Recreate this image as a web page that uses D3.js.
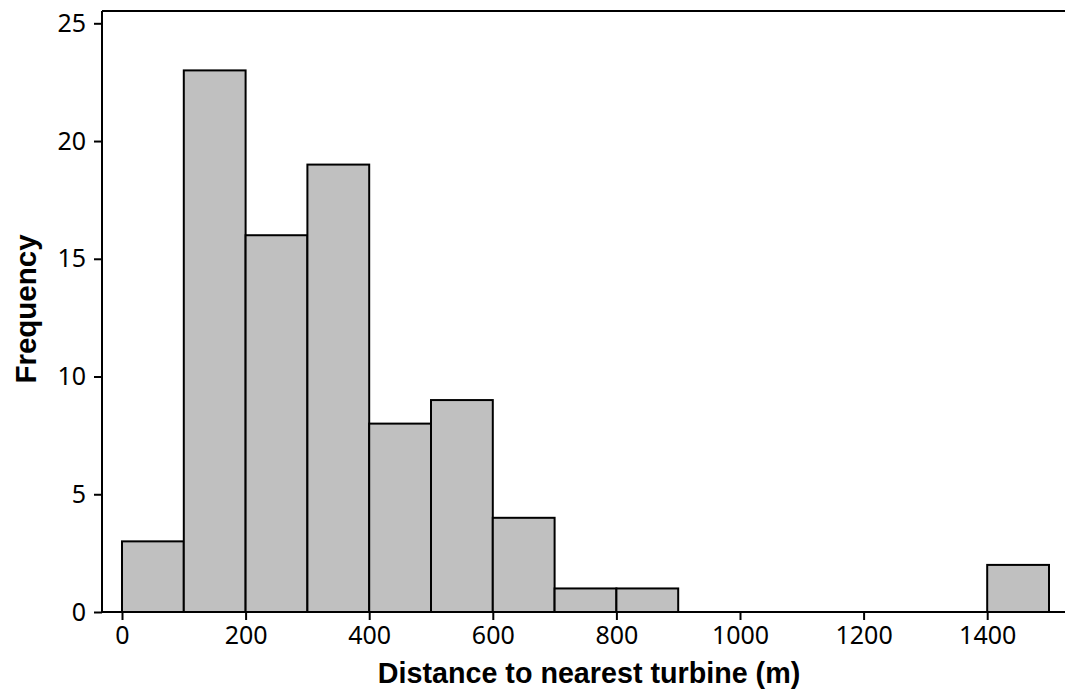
<!DOCTYPE html>
<html>
<head>
<meta charset="utf-8">
<script src="https://cdn.jsdelivr.net/npm/d3@7"></script>
<style>
  body { margin: 0; background: #fff; }
  .tick text { font-family: "Noto Sans", Tahoma, sans-serif; font-size: 25px; fill: #000; }
  .axtitle { font-family: "Liberation Sans", Arial, sans-serif; font-weight: bold; fill: #000; }
</style>
</head>
<body>
<div id="chart"></div>
<script>
// histogram bins (lower edge) and counts
const binStarts = [0, 100, 200, 300, 400, 500, 600, 700, 800, 900, 1000, 1100, 1200, 1300, 1400];
const binWidth = 100;
const counts = [3, 23, 16, 19, 8, 9, 4, 1, 1, 0, 0, 0, 0, 0, 2];
const xTicks = [0, 200, 400, 600, 800, 1000, 1200, 1400];
const yTicks = [0, 5, 10, 15, 20, 25];

const W = 1065, H = 696;
const margin = {top: 11, right: 0, bottom: 84, left: 102};

const svg = d3.select("#chart").append("svg")
    .attr("width", W)
    .attr("height", H);

const xScale = d3.scaleLinear()
    .domain([0, 1500])
    .range([122, 1049]);

const yScale = d3.scaleLinear()
    .domain([0, 25])
    .range([612, 23.3]);

const bars = binStarts.map((s, i) => ({x0: s, x1: s + binWidth, n: counts[i]}));

svg.selectAll("rect.bar")
    .data(bars)
    .enter().append("rect")
    .attr("class", "bar")
    .attr("x", d => xScale(d.x0))
    .attr("y", d => yScale(d.n))
    .attr("width", d => xScale(d.x1) - xScale(d.x0))
    .attr("height", d => yScale(0) - yScale(d.n))
    .attr("fill", "#c0c0c0")
    .attr("stroke", "#000")
    .attr("stroke-width", 2);

// top frame line
svg.append("line")
    .attr("x1", margin.left).attr("x2", W)
    .attr("y1", margin.top).attr("y2", margin.top)
    .attr("stroke", "#000").attr("stroke-width", 2);

const xAxis = svg.append("g")
    .attr("transform", "translate(0," + yScale(0) + ")")
    .call(d3.axisBottom(xScale).tickValues(xTicks).tickFormat(d3.format("d"))
        .tickSize(8).tickPadding(6).tickSizeOuter(0));
xAxis.select(".domain").remove();
xAxis.selectAll(".tick line").attr("stroke-width", 2);
svg.append("line")
    .attr("x1", margin.left).attr("x2", W)
    .attr("y1", yScale(0)).attr("y2", yScale(0))
    .attr("stroke", "#000").attr("stroke-width", 2);

const yAxis = svg.append("g")
    .attr("transform", "translate(" + margin.left + ",0)")
    .call(d3.axisLeft(yScale).tickValues(yTicks).tickSize(8).tickPadding(8).tickSizeOuter(0));
yAxis.select(".domain").remove();
yAxis.selectAll(".tick line").attr("stroke-width", 2);
svg.append("line")
    .attr("x1", margin.left).attr("x2", margin.left)
    .attr("y1", margin.top).attr("y2", yScale(0))
    .attr("stroke", "#000").attr("stroke-width", 2);

svg.append("text")
    .attr("class", "axtitle")
    .attr("text-anchor", "middle")
    .attr("font-size", 28.7)
    .attr("x", 589)
    .attr("y", 683)
    .text("Distance to nearest turbine (m)");

svg.append("text")
    .attr("class", "axtitle")
    .attr("text-anchor", "middle")
    .attr("font-size", 29.5)
    .attr("transform", "translate(36,309) rotate(-90)")
    .text("Frequency");
</script>
</body>
</html>
